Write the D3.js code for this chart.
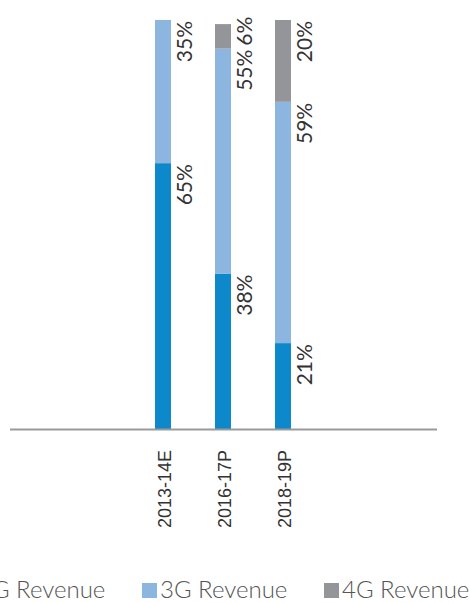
<!DOCTYPE html>
<html>
<head>
<meta charset="utf-8">
<script src="https://cdn.jsdelivr.net/npm/d3@7"></script>
<style>
  html, body { margin: 0; padding: 0; background: #fff; }
  svg { display: block; }
</style>
</head>
<body>
<svg id="chart" width="470" height="603"></svg>
<script>
// Revenue mix by technology, share of total (%)
const categories = ["2013-14E", "2016-17P", "2018-19P"];
const seriesNames = ["2G Revenue", "3G Revenue", "4G Revenue"];
const rev2G = [65, 38, 21];
const rev3G = [35, 55, 59];
const rev4G = [0, 6, 20];
const colors = ["#0c88cb", "#8cb5e0", "#939598"];

const rows = categories.map((c, i) => ({
  category: c,
  "2G Revenue": rev2G[i],
  "3G Revenue": rev3G[i],
  "4G Revenue": rev4G[i]
}));

const svg = d3.select("#chart");

const x = d3.scaleBand()
  .domain(categories)
  .range([9.5, 436.5])
  .paddingInner(0.7333)
  .paddingOuter(2.425);

const y = d3.scaleLinear().domain([0, 100]).range([429, 20]);

const color = d3.scaleOrdinal().domain(seriesNames).range(colors);

const stacked = d3.stack().keys(seriesNames)(rows);

// stacked bars
svg.append("g")
  .selectAll("g")
  .data(stacked)
  .join("g")
  .attr("fill", d => color(d.key))
  .selectAll("rect")
  .data(d => d.filter(s => s[1] - s[0] > 0))
  .join("rect")
  .attr("x", d => x(d.data.category))
  .attr("width", x.bandwidth())
  .attr("y", d => y(d[1]))
  .attr("height", d => y(d[0]) - y(d[1]));

// value labels: rotated, right of each segment, starting at the segment top;
// a label is nudged upward when it would run into the one below it
const labelFont = 21;
const labelGap = 4;
const labelLayer = svg.append("g")
  .attr("font-family", "Lato, sans-serif")
  .attr("font-size", labelFont)
  .attr("fill", "#333");

categories.forEach((cat, ci) => {
  let lowerTop = Infinity;
  stacked.forEach(layer => {
    const s = layer[ci];
    const v = s[1] - s[0];
    if (v <= 0) return;
    const t = labelLayer.append("text")
      .attr("text-anchor", "end")
      .text(`${v}%`);
    const len = t.node().getComputedTextLength();
    const top = Math.min(y(s[1]) + 1, lowerTop - labelGap - len);
    t.attr("transform",
      `translate(${x(cat) + x.bandwidth() + 21},${top}) rotate(-90)`);
    lowerTop = top;
  });
});

// baseline
svg.append("line")
  .attr("x1", 10).attr("x2", 437)
  .attr("y1", 429.5).attr("y2", 429.5)
  .attr("stroke", "#9a9a9a")
  .attr("stroke-width", 2);

// category labels
svg.append("g")
  .selectAll("text")
  .data(categories)
  .join("text")
  .attr("transform", d => `translate(${x(d) + x.bandwidth() / 2 + 1.5},450) rotate(-90)`)
  .attr("text-anchor", "end")
  .attr("dy", "0.35em")
  .attr("font-family", "'Liberation Sans', Arial, sans-serif")
  .attr("font-size", 18)
  .attr("fill", "#333")
  .text(d => d);

// legend
const legendX = d3.scalePoint().domain(seriesNames).range([-40, 324]);
const legend = svg.append("g")
  .selectAll("g")
  .data(seriesNames)
  .join("g")
  .attr("transform", d => `translate(${legendX(d)},583)`);

legend.append("rect")
  .attr("width", 15).attr("height", 15)
  .attr("fill", d => color(d));

legend.append("text")
  .attr("x", 18)
  .attr("y", 15)
  .attr("font-family", "Lato, sans-serif")
  .attr("font-weight", 300)
  .attr("font-size", 24)
  .attr("fill", "#555")
  .text(d => d);
</script>
</body>
</html>
